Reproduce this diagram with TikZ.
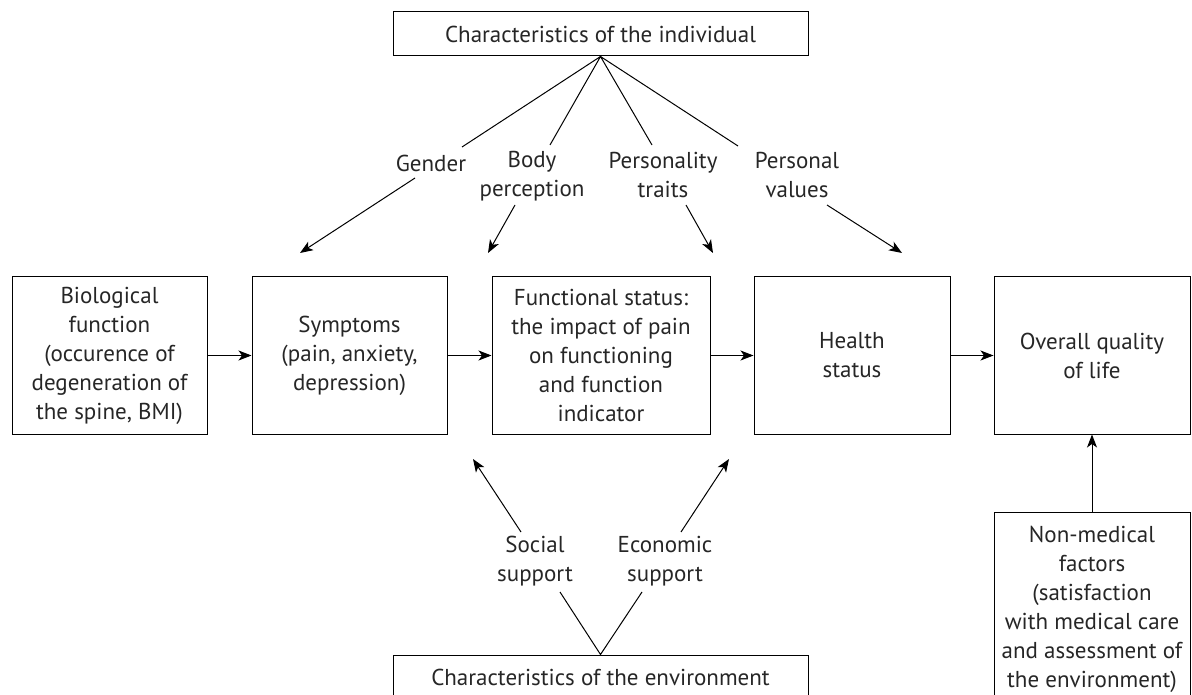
\documentclass[tikz,border=0pt]{standalone}
\usepackage{fontspec}
\setmainfont{PT Sans}
\usepackage{tikz}
\usetikzlibrary{arrows.meta}

\begin{document}
\begin{tikzpicture}[x=1pt, y=-1pt, line width=1pt, every node/.style={align=center, font=\fontsize{23}{29}\selectfont, text=black!85},
  box/.style={draw, minimum height=157pt, inner sep=0pt},
  frame/.style={draw, minimum height=44pt, inner sep=0pt},
  lbl/.style={inner sep=1pt},
  arr/.style={-{Stealth[length=13pt, width=10pt, inset=3.5pt]}}]
  \useasboundingbox (0,0) rectangle (1192,695);
  \node[frame, minimum width=415pt](ind) at (600.5,34) {Characteristics of the individual};
  \node[frame, minimum width=415pt](env) at (600.5,677) {Characteristics of the environment};
  \node[box, minimum width=195pt](bio) at (109.5,355.5) {Biological\\function\\(occurence of\\degeneration of\\the spine, BMI)};
  \node[box, minimum width=195pt](sym) at (349.5,355.5) {Symptoms\\(pain, anxiety,\\depression)};
  \node[box, minimum width=218pt](fun) at (601,355.5) {Functional status:\\the impact of pain\\on functioning\\and function\\indicator};
  \node[box, minimum width=196pt](hea) at (852,355.5) {Health\\status};
  \node[box, minimum width=196pt](qol) at (1092,355.5) {Overall quality\\of life};
  \node[draw, minimum width=196pt, minimum height=195pt, inner sep=0pt](nonmed) at (1092,609.5) {Non-medical\\factors\\(satisfaction\\with medical care\\and assessment of\\the environment)};
  \node[lbl](gender) at (431,163) {Gender};
  \node[lbl](body) at (532,176) {Body\\perception};
  \node[lbl](traits) at (663,175) {Personality\\traits};
  \node[lbl](values) at (797,175) {Personal\\values};
  \node[lbl](social) at (535,561) {Social\\support};
  \node[lbl](economic) at (665,561) {Economic\\support};
  \coordinate (g0) at (462,147); \coordinate (g1) at (415,178); \coordinate (g2) at (300,253);
  \coordinate (b0) at (550,145); \coordinate (b1) at (515,205); \coordinate (b2) at (488,253);
  \coordinate (t0) at (652,145); \coordinate (t1) at (686,205); \coordinate (t2) at (713,253);
  \coordinate (v0) at (738,146); \coordinate (v1) at (827,205); \coordinate (v2) at (902,253);
  \coordinate (s0) at (560,592); \coordinate (s1) at (521,532); \coordinate (s2) at (473,459);
  \coordinate (e0) at (642,592); \coordinate (e1) at (681,532); \coordinate (e2) at (729,459);
  \draw (g0) -- (ind.south) -- (b0) (t0) -- (ind.south) -- (v0);
  \draw (s0) -- (env.north) -- (e0);
  \draw[arr] (g1) -- (g2);
  \draw[arr] (b1) -- (b2);
  \draw[arr] (t1) -- (t2);
  \draw[arr] (v1) -- (v2);
  \draw[arr] (s1) -- (s2);
  \draw[arr] (e1) -- (e2);
  \draw[arr] (bio) -- (sym);
  \draw[arr] (sym) -- (fun);
  \draw[arr] (fun) -- (hea);
  \draw[arr] (hea) -- (qol);
  \draw[arr] (nonmed) -- (qol);
\end{tikzpicture}
\end{document}
